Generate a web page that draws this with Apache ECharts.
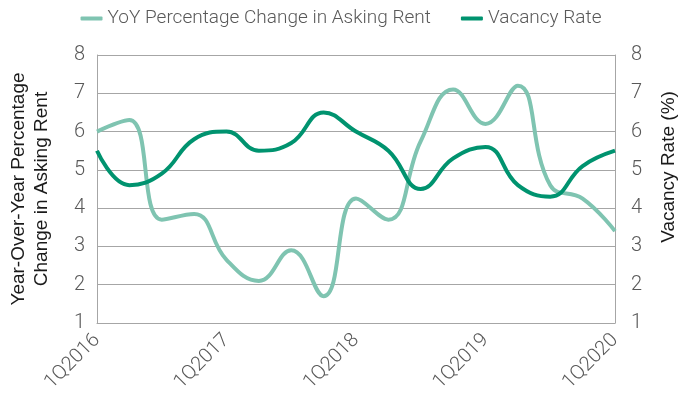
<!DOCTYPE html>
<html>
<head>
<meta charset="utf-8">
<script src="https://cdn.jsdelivr.net/npm/echarts@6/dist/echarts.min.js"></script>
<style>
  html, body { margin: 0; padding: 0; background: #fff; }
  #chart { width: 682px; height: 401px; }
</style>
</head>
<body>
<div id="chart"></div>
<script>
// quarters 1Q2016 .. 1Q2020
const quarters = ['1Q2016', '2Q2016', '3Q2016', '4Q2016',
  '1Q2017', '2Q2017', '3Q2017', '4Q2017',
  '1Q2018', '2Q2018', '3Q2018', '4Q2018',
  '1Q2019', '2Q2019', '3Q2019', '4Q2019', '1Q2020']
const rentChange = [6.0, 6.3, 3.7, 3.85, 2.65, 2.1, 2.9, 1.7, 4.25, 3.7, 5.75, 7.1, 6.2, 7.2, 4.6, 4.25, 3.4]
const vacancyRate = [5.5, 4.6, 4.9, 5.8, 6.0, 5.5, 5.7, 6.5, 6.0, 5.5, 4.5, 5.3, 5.6, 4.6, 4.3, 5.1, 5.5]

const lightColor = '#7fc4b1'
const darkColor = '#00936f'
const font = 'Roboto'

const chart = echarts.init(document.getElementById('chart'))

// y axis shared style
function yAxisBase(name) {
  return {
    type: 'value',
    min: 1,
    max: 8,
    interval: 1,
    name: name,
    nameLocation: 'middle',
    nameRotate: 90,
    axisLine: { show: true, lineStyle: { color: '#a6a6a6', width: 1 } },
    axisTick: { show: false },
    splitLine: { show: true, lineStyle: { color: '#a6a6a6', width: 1 } },
    axisLabel: { color: '#595959', fontSize: 20, fontFamily: font, fontWeight: 300 },
    nameTextStyle: { color: '#1a1a1a', fontSize: 19, fontFamily: 'Liberation Sans', lineHeight: 23 }
  }
}

const yLeft = yAxisBase('Year-Over-Year Percentage\nChange in Asking Rent')
yLeft.position = 'left'
yLeft.nameGap = 44
yLeft.axisLabel.margin = 12

const yRight = yAxisBase('Vacancy Rate (%)')
yRight.position = 'right'
yRight.nameGap = 42
yRight.axisLabel.margin = 16
yRight.nameTextStyle.padding = [0, 0, 0, 44]

chart.setOption({
  animation: false,
  legend: {
    top: 4,
    left: 'center',
    itemWidth: 22,
    itemHeight: 4,
    itemGap: 30,
    icon: 'roundRect',
    textStyle: { color: '#595959', fontSize: 19, fontFamily: font, fontWeight: 300 },
    data: ['YoY Percentage Change in Asking Rent', 'Vacancy Rate']
  },
  grid: { left: 97, right: 67, top: 55, bottom: 78, outerBoundsMode: 'none', containLabel: false },
  xAxis: {
    type: 'category',
    data: quarters,
    boundaryGap: false,
    axisLine: { lineStyle: { color: '#a6a6a6' } },
    axisTick: { show: false },
    axisLabel: {
      interval: 3,
      rotate: 45,
      color: '#595959',
      fontSize: 20,
      fontFamily: font,
      fontWeight: 300,
      margin: 14
    }
  },
  yAxis: [yLeft, yRight],
  series: [
    {
      name: 'YoY Percentage Change in Asking Rent',
      type: 'line',
      yAxisIndex: 0,
      data: rentChange,
      smooth: 0.45,
      showSymbol: false,
      lineStyle: { color: lightColor, width: 4 },
      itemStyle: { color: lightColor }
    },
    {
      name: 'Vacancy Rate',
      type: 'line',
      yAxisIndex: 1,
      data: vacancyRate,
      smooth: 0.45,
      showSymbol: false,
      lineStyle: { color: darkColor, width: 4 },
      itemStyle: { color: darkColor }
    }
  ]
})
</script>
</body>
</html>
